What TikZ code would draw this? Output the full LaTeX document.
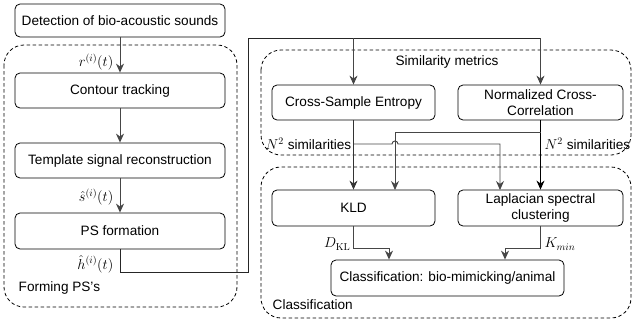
\documentclass[tikz,border=0pt]{standalone}
\usepackage[no-math]{fontspec}
\setmainfont{Liberation Sans}
\usetikzlibrary{arrows.meta}
\definecolor{lg}{RGB}{70,70,70}
\begin{document}
\begin{tikzpicture}[x=1pt,y=-1pt,
  font=\fontsize{13.6}{15.5}\selectfont,
  blk/.style={draw, rounded corners=5pt, line width=0.8pt, minimum height=35pt, inner sep=1pt, align=center},
  region/.style={draw, dash pattern=on 3.5pt off 2.5pt, line width=0.8pt, rounded corners=20pt},
  conn/.style={draw=lg, line width=0.95pt},
  arr/.style={conn, -{Stealth[length=9pt,width=8pt]}},
  lbl/.style={inner sep=0.5pt}]
\useasboundingbox (0,0) rectangle (633,327);
% regions
\draw[region] (4,45) rectangle (237,307);
\draw[region] (261,50) rectangle (631,155);
\draw[region] (261,167) rectangle (631,318);
\node[lbl, anchor=west] (lform) at (18,288) {Forming PS's};
\node[lbl] (lsim) at (447,62) {Similarity metrics};
\node[lbl, anchor=west] (lcls) at (272,305) {Classification};
% blocks
\node[blk, minimum width=210pt, minimum height=33pt] (det) at (120,20.5) {Detection of bio-acoustic sounds};
\node[blk, minimum width=210pt] (ct) at (120,90.5) {Contour tracking};
\node[blk, minimum width=210pt] (tsr) at (120,160.5) {Template signal reconstruction};
\node[blk, minimum width=210pt, minimum height=36pt] (psf) at (120,231) {PS formation};
\node[blk, minimum width=163pt] (cse) at (353.5,102.5) {Cross-Sample Entropy};
\node[blk, minimum width=165pt] (ncc) at (540.5,102.5) {Normalized Cross-\\Correlation};
\node[blk, minimum width=163pt, minimum height=36pt] (kld) at (353.5,208) {KLD};
\node[blk, minimum width=165pt, minimum height=36pt] (lap) at (540.5,208) {Laplacian spectral\\clustering};
\node[blk, minimum width=233pt, minimum height=36pt] (cls) at (447.5,278) {Classification: bio-mimicking/animal};
% left chain
\draw[arr] (det.south) -- (ct.north);
\draw[arr] (ct.south) -- (tsr.north);
\draw[arr] (tsr.south) -- (psf.north);
\node[lbl, anchor=east] (lr) at (114,62) {$r^{(i)}(t)$};
\node[lbl, anchor=east] (ls) at (114,197) {$\hat{s}^{(i)}(t)$};
\node[lbl, anchor=east] (lh) at (114,264) {$\hat{h}^{(i)}(t)$};
% PS to metrics
\coordinate (c1) at (120,272);
\coordinate (c2) at (248,272);
\coordinate (c3) at (248,38);
\coordinate (c4) at (353.5,38);
\coordinate (c5) at (540.5,38);
\draw[conn, draw=black!85] (psf.south) -- (c1) -- (c2) -- (c3) -- (c5);
\draw[arr] (c4) -- (cse.north);
\draw[arr] (c5) -- (ncc.north);
% metrics to classifiers
\coordinate (kin2) at (395,190);
\coordinate (lin1) at (500,190);
\draw[arr, draw=black!80] (cse.south) -- (kld.north);
\draw[arr, draw=black, line width=1.1pt] (ncc.south) -- (lap.north);
\draw[arr] (540.5,132) -- (395,132) -- (kin2);
\draw[arr] (353.5,144) -- (392,144) arc[start angle=180, end angle=0, radius=3pt] -- (500,144) -- (lin1);
\node[lbl, anchor=west] (ln1) at (265,144) {$N^2$ similarities};
\node[lbl, anchor=west] (ln2) at (544,144) {$N^2$ similarities};
% classifiers to classification
\coordinate (k1) at (353.5,248);
\coordinate (k2) at (389,248);
\coordinate (l1) at (540.5,248);
\coordinate (l2) at (505,248);
\draw[arr] (kld.south) -- (k1) -- (k2) -- (k2 |- cls.north);
\draw[arr] (lap.south) -- (l1) -- (l2) -- (l2 |- cls.north);
\node[lbl, anchor=east] (ldkl) at (351,244) {$D_{\mathrm{KL}}$};
\node[lbl, anchor=west] (lk) at (544,244) {$K_{min}$};
\end{tikzpicture}
\end{document}
